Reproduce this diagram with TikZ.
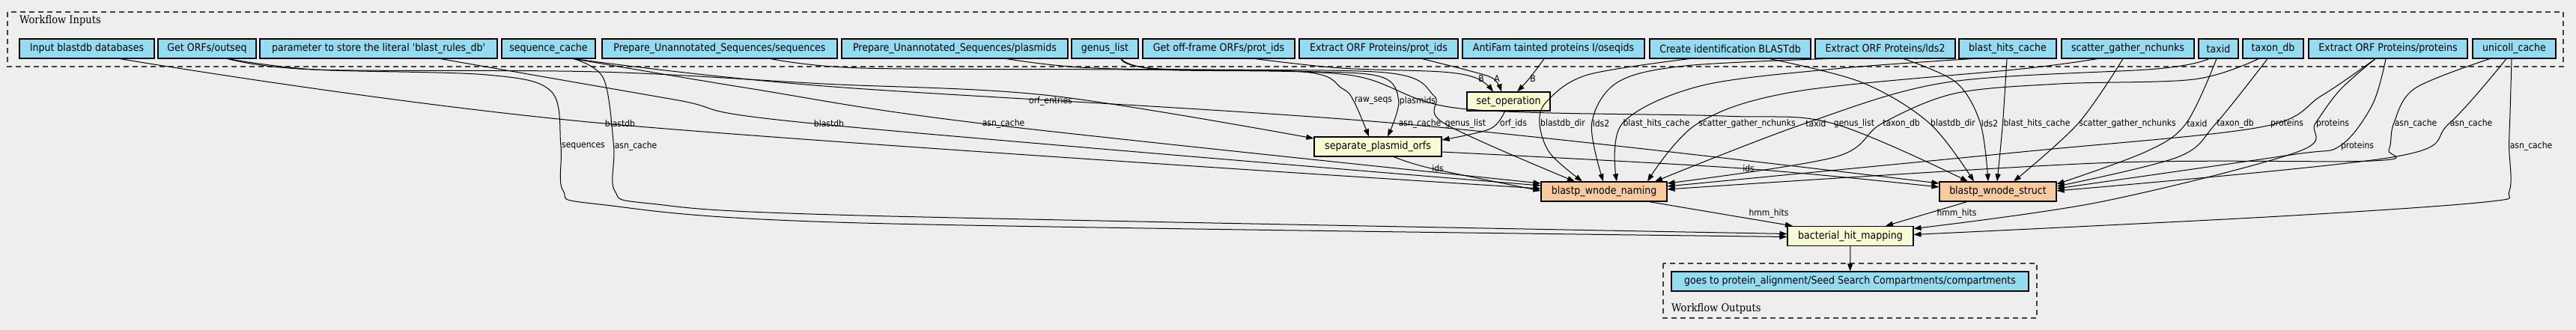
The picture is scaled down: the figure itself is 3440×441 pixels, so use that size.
\documentclass[tikz,border=0pt]{standalone}
\usepackage{fontspec}
\usetikzlibrary{arrows.meta}
\newfontfamily\gvsans{DejaVu Sans Condensed}
\newfontfamily\gvserif{DejaVu Serif Condensed}
\definecolor{canvas}{HTML}{EEEEEE}
\definecolor{inputc}{HTML}{94DCF2}
\definecolor{toolc}{HTML}{FAFAD2}
\definecolor{blastc}{HTML}{F7CB9D}

\begin{document}
\begin{tikzpicture}[x=1pt,y=-1pt,
    io/.style={draw,line width=1.1pt,fill=inputc,minimum height=26pt,inner xsep=2pt,inner ysep=0pt,font=\gvsans\fontsize{14}{16}\selectfont},
    tool/.style={io,fill=toolc},
    blast/.style={io,fill=blastc},
    lbl/.style={inner sep=1pt,font=\gvsans\fontsize{12}{14}\selectfont},
    flow/.style={draw,line width=1pt,-{Triangle[length=10pt,width=7pt]},smooth,tension=0.55},
    grp/.style={draw=black!75,line width=1.2pt,dash pattern=on 7pt off 5pt},
    grplbl/.style={anchor=west,inner sep=0pt,font=\gvserif\fontsize{14.5}{17}\selectfont}]
\fill[canvas] (0,0) rectangle (3440,441);
\useasboundingbox (0,0) rectangle (3440,441);

\draw[grp] (10,16) rectangle (3423,89);
\node[grplbl] (inlab) at (26,28) {Workflow Inputs};
\draw[grp] (2221,352) rectangle (2720,425);
\node[grplbl] (outlab) at (2232,412) {Workflow Outputs};

\node[io,minimum width=180pt] (inblastdb) at (116,65) {Input blastdb databases};
\node[io,minimum width=131pt] (outseq) at (276.5,65) {Get ORFs/outseq};
\node[io,minimum width=317pt] (rulesdb) at (505.5,65) {parameter to store the literal 'blast\_rules\_db'};
\node[io,minimum width=125pt] (seqcache) at (732.5,65) {sequence\_cache};
\node[io,minimum width=314pt] (prepseqs) at (961,65) {Prepare\_Unannotated\_Sequences/sequences};
\node[io,minimum width=302pt] (prepplas) at (1275,65) {Prepare\_Unannotated\_Sequences/plasmids};
\node[io,minimum width=89pt] (genus) at (1475.5,65) {genus\_list};
\node[io,minimum width=203pt] (offframe) at (1627.5,65) {Get off-frame ORFs/prot\_ids};
\node[io,minimum width=212pt] (protids) at (1841,65) {Extract ORF Proteins/prot\_ids};
\node[io,minimum width=243pt] (antifam) at (2074.5,65) {AntiFam tainted proteins I/oseqids};
\node[io,minimum width=215pt] (identdb) at (2310.5,65) {Create identification BLASTdb};
\node[io,minimum width=187pt] (lds) at (2517.5,65) {Extract ORF Proteins/lds2};
\node[io,minimum width=130pt] (hitscache) at (2681,65) {blast\_hits\_cache};
\node[io,minimum width=177pt] (nchunks) at (2841.5,65) {scatter\_gather\_nchunks};
\node[io,minimum width=53pt] (taxid) at (2962.5,65) {taxid};
\node[io,minimum width=81pt] (taxondb) at (3035.5,65) {taxon\_db};
\node[io,minimum width=212pt] (orfprot) at (3189,65) {Extract ORF Proteins/proteins};
\node[io,minimum width=111pt] (unicoll) at (3357.5,65) {unicoll\_cache};

\node[tool,minimum width=111pt,minimum height=25pt] (setop) at (2014.5,135.5) {set\_operation};
\node[tool,minimum width=170pt] (plasorfs) at (1840,196) {separate\_plasmid\_orfs};
\node[blast,minimum width=168pt] (naming) at (2142,256) {blastp\_wnode\_naming};
\node[blast,minimum width=156pt] (struct) at (2668,256) {blastp\_wnode\_struct};
\node[tool,minimum width=168pt] (hitmap) at (2471,315.5) {bacterial\_hit\_mapping};
\node[io,minimum width=477pt] (compart) at (2470.5,376) {goes to protein\_alignment/Seed Search Compartments/compartments};

\node[lbl] (lb1) at (1978,105) {B};
\node[lbl] (la) at (1999,105) {A};
\node[lbl] (lb2) at (2047,105) {B};
\node[lbl] (lorf) at (1403,135) {orf\_entries};
\node[lbl] (lraw) at (1834,135) {raw\_seqs};
\node[lbl] (lplas) at (1893,135) {plasmids};
\node[lbl] (lorfids) at (2021,165) {orf\_ids};
\node[lbl] (ldb1) at (828,165) {blastdb};
\node[lbl] (ldb2) at (1107,165) {blastdb};
\node[lbl] (lasn1) at (1340,165) {asn\_cache};
\node[lbl] (lasn2) at (1896,165) {asn\_cache};
\node[lbl] (lgen1) at (1957,165) {genus\_list};
\node[lbl] (ldir1) at (2087,165) {blastdb\_dir};
\node[lbl] (llds1) at (2138,165) {lds2};
\node[lbl] (lhits1) at (2212,165) {blast\_hits\_cache};
\node[lbl] (lchk1) at (2333,165) {scatter\_gather\_nchunks};
\node[lbl] (ltax1) at (2425,165) {taxid};
\node[lbl] (lgen2) at (2476,165) {genus\_list};
\node[lbl] (ltdb1) at (2539,165) {taxon\_db};
\node[lbl] (ldir2) at (2608,165) {blastdb\_dir};
\node[lbl] (llds2) at (2657,165) {lds2};
\node[lbl] (lhits2) at (2720,165) {blast\_hits\_cache};
\node[lbl] (lchk2) at (2841,165) {scatter\_gather\_nchunks};
\node[lbl] (ltax2) at (2934,165) {taxid};
\node[lbl] (ltdb2) at (2985,165) {taxon\_db};
\node[lbl] (lprot1) at (3054,165) {proteins};
\node[lbl] (lprot2) at (3115,165) {proteins};
\node[lbl] (lasn3) at (3226,165) {asn\_cache};
\node[lbl] (lasn4) at (3300,165) {asn\_cache};
\node[lbl] (lseqs) at (779,195) {sequences};
\node[lbl] (lasn5) at (849,195) {asn\_cache};
\node[lbl] (lprot3) at (3148,195) {proteins};
\node[lbl] (lasn6) at (3380,195) {asn\_cache};
\node[lbl] (lids1) at (1920,225) {ids};
\node[lbl] (lids2) at (2335,225) {ids};
\node[lbl] (lhmm1) at (2362,285) {hmm\_hits};
\node[lbl] (lhmm2) at (2613,285) {hmm\_hits};

\draw[flow] plot coordinates {([xshift=48.5pt]offframe.south) (1790,91) (1925,96) (lb1.west) ([xshift=-20.5pt]setop.north)};
\draw[flow] plot coordinates {([xshift=58pt]protids.south) (1960,94) (la.west) ([xshift=-9.5pt]setop.north)};
\draw[flow] plot coordinates {([xshift=-12.5pt]antifam.south) (lb2.west) ([xshift=11.5pt]setop.north)};

\draw[flow] plot coordinates {([xshift=27.5pt]outseq.south) (420,93) (800,96) (1100,112) (lorf.north) ([yshift=11pt]plasorfs.west)};
\draw[flow] plot coordinates {([xshift=68pt]prepseqs.south) (1150,91) (1500,93) (1740,96) (1792,118) (lraw.west) ([xshift=-12pt]plasorfs.north)};
\draw[flow] plot coordinates {([xshift=69pt]prepplas.south) (1460,91) (1720,95) (1842,102) (lplas.west) ([xshift=13pt]plasorfs.north)};
\draw[flow] plot coordinates {([xshift=-5pt]setop.south) ([xshift=-12pt]lorfids.south west) ([yshift=9pt]plasorfs.east)};

\draw[flow] plot coordinates {([xshift=44pt]inblastdb.south) (ldb1.west) ([yshift=4pt]naming.west)};
\draw[flow] plot coordinates {([xshift=82.5pt]rulesdb.south) (900,133) (ldb2.west) ([yshift=8pt]naming.west)};
\draw[flow] plot coordinates {([xshift=33.5pt]seqcache.south) (1000,118) (lasn1.west) ([yshift=11pt]naming.west)};
\draw[flow] plot coordinates {([xshift=21pt]plasorfs.south) (lids1.west) ([yshift=1pt]naming.west)};
\draw[flow] plot coordinates {([xshift=21.5pt]genus.south) (1550,92) (1850,97) (1915,128) (lgen1.west) ([xshift=-39pt]naming.north)};
\draw[flow] plot coordinates {([xshift=-54.5pt]identdb.south) (2120,100) (2066,135) (ldir1.west) (2070,205) ([xshift=-29pt]naming.north)};
\draw[flow] plot coordinates {([xshift=-77.5pt]lds.south) (2250,88) (2160,110) (llds1.west) ([xshift=-1pt]naming.north)};
\draw[flow] plot coordinates {([xshift=-47pt]hitscache.south) (2450,92) (2270,115) (lhits1.west) ([xshift=17pt]naming.north)};
\draw[flow] plot coordinates {([xshift=-40.5pt]nchunks.south) (2700,92) (2400,122) (lchk1.west) ([xshift=58pt]naming.north)};
\draw[flow] plot coordinates {([xshift=-12.5pt]taxid.south) (2880,92) (2600,110) (ltax1.west) ([xshift=68pt]naming.north)};
\draw[flow] plot coordinates {([xshift=-19.5pt]taxondb.south) (2930,106) (2750,112) (2610,125) (ltdb1.west) (2450,210) ([yshift=11pt]naming.east)};
\draw[flow] plot coordinates {([xshift=-17pt]orfprot.south) (3100,128) (3018,170) (2700,203) ([yshift=7pt]naming.east)};
\draw[flow] plot coordinates {([xshift=-32.5pt]unicoll.south) (3225,118) (lasn3.west) (3190,200) (3168,215) (2800,218) ([yshift=3pt]naming.east)};

\draw[flow] plot coordinates {([xshift=33.5pt]seqcache.south) (1100,115) (lasn2.west) ([yshift=11pt]struct.west)};
\draw[flow] plot coordinates {([yshift=-7pt]plasorfs.east) (lids2.west) ([yshift=6pt]struct.west)};
\draw[flow] plot coordinates {([xshift=21.5pt]genus.south) (1550,93) (1800,100) (1950,145) (2300,155) (lgen2.west) ([xshift=-40pt]struct.north)};
\draw[flow] plot coordinates {([xshift=52.5pt]identdb.south) (2486,110) (ldir2.west) ([xshift=-32pt]struct.north)};
\draw[flow] plot coordinates {([xshift=24.5pt]lds.south) (2612,110) (llds2.west) ([xshift=-13pt]struct.north)};
\draw[flow] plot coordinates {([xshift=-1pt]hitscache.south) (lhits2.west) ([xshift=-1pt]struct.north)};
\draw[flow] plot coordinates {([xshift=-6.5pt]nchunks.south) (lchk2.west) ([xshift=21pt]struct.north)};
\draw[flow] plot coordinates {([xshift=-2.5pt]taxid.south) (ltax2.west) (2865,203) ([yshift=10pt]struct.east)};
\draw[flow] plot coordinates {([xshift=-7.5pt]taxondb.south) (ltdb2.west) (2908,210) ([yshift=7pt]struct.east)};
\draw[flow] plot coordinates {([xshift=-3pt]orfprot.south) (3168,140) (lprot3.west) (3059,207) ([yshift=4pt]struct.east)};
\draw[flow] plot coordinates {([xshift=-10.5pt]unicoll.south) (lasn4.west) (3195,210) ([yshift=1pt]struct.east)};

\draw[flow] plot coordinates {([xshift=27.5pt]outseq.south) (420,93) (650,100) (736,122) (lseqs.west) (752,255) (800,273) (1150,298) ([yshift=-1pt]hitmap.west)};
\draw[flow] plot coordinates {([xshift=33.5pt]seqcache.south) (806,105) (lasn5.west) (821,255) (868,272) (1150,288) ([yshift=3pt]hitmap.west)};
\draw[flow] ([xshift=60pt]naming.south) -- ([xshift=-77pt]hitmap.north);
\draw[flow] ([xshift=-41pt]struct.south) -- ([xshift=47pt]hitmap.north);
\draw[flow] plot coordinates {([xshift=-17pt]orfprot.south) (3125,120) (lprot2.west) (3068,203) (2804,270) ([yshift=10pt]hitmap.east)};
\draw[flow] plot coordinates {([xshift=-3.5pt]unicoll.south) (3352,150) (lasn6.west) (3351,255) (3318,270) (3027,290) ([yshift=2pt]hitmap.east)};
\draw[flow] (hitmap) -- (compart);
\end{tikzpicture}
\end{document}
